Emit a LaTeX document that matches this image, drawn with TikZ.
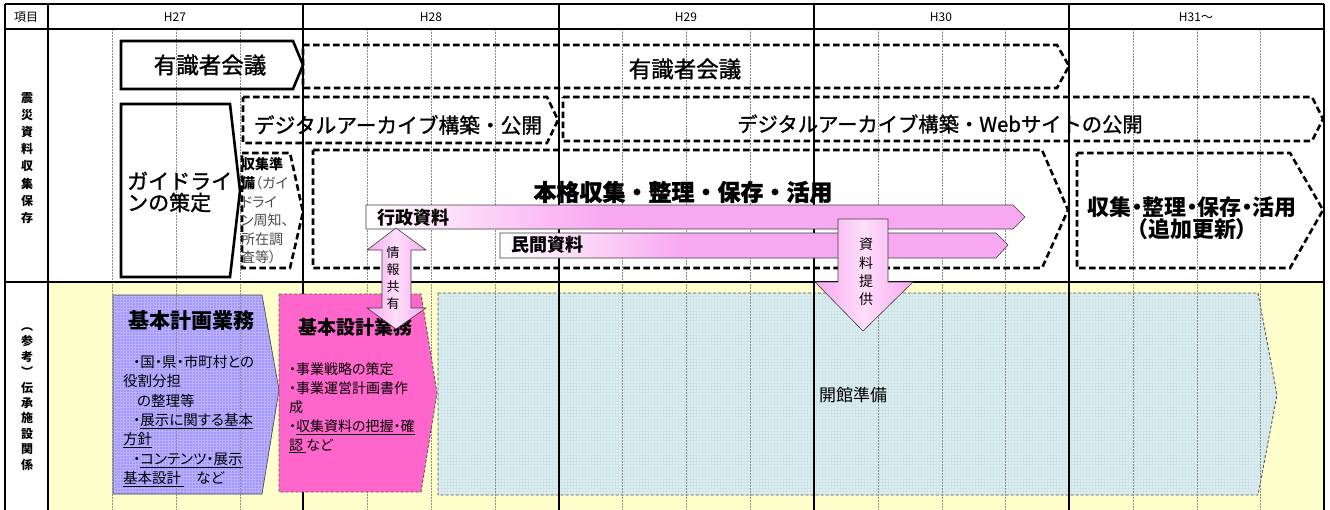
\documentclass[tikz,border=0pt]{standalone}
\usepackage        {fontspec}
\setmainfont       {Noto Sans CJK JP}[RawFeature=+palt]
\newfontfamily\jpHeavy{Noto Sans CJK JP}[RawFeature={embolden=1.3}]
\usetikzlibrary    {patterns}
\definecolor{bgYellow}{RGB}{255,255,204}
\definecolor{arrowPink}{RGB}{248,168,240}
\definecolor{arrowPinkLight}{RGB}{253,222,250}
\definecolor{designPink}{RGB}{255,102,204}
\definecolor{planPurple}{RGB}{162,152,252}
\definecolor{planGrid}{RGB}{186,178,255}
\definecolor{openBlue}{RGB}{220,238,238}
\definecolor{openGrid}{RGB}{206,228,234}
\pgfdeclarehorizontalshading{pinkFade}{100bp}{color(0bp)=(white); color(25bp)=(white); color(43bp)=(arrowPink); color(100bp)=(arrowPink)}

\begin{document}
\begin{tikzpicture}[x=1pt,y=-1pt]
 \tikzset{
  yearLine/.style={black, line width=1.6pt},
  quarterLine/.style={black!45, line width=0.9pt, dash pattern=on 2pt off 1pt},
  solidBox/.style={black, line width=2.6pt, line join=miter},
  dashBox/.style={black, line width=2.6pt, dash pattern=on 6.5pt off 3.5pt},
  thinDash/.style={black!65, line width=0.9pt, dash pattern=on 3pt off 2pt},
  pinkArrow/.style={draw=black!75, line width=0.6pt, shading=pinkFade},
  pinkBlock/.style={draw=black!75, line width=0.6pt, left color=arrowPink, right color=arrowPink, middle color=arrowPinkLight},
  headText/.style={font=\fontsize{12}{14}\selectfont},
  sideLabel/.style={align=center, inner sep=0pt, font=\fontsize{12}{17.1}\selectfont\bfseries},
  bigText/.style={inner sep=0pt, font=\fontsize{20.7}{20.7}\selectfont\jpHeavy},
  boldText/.style={inner sep=0pt, align=center, font=\fontsize{22}{22}\selectfont\bfseries},
  arrowText/.style={inner sep=0pt, font=\fontsize{18}{18}\selectfont\bfseries},
  vertText/.style={inner sep=0pt, align=center},
  bodyText/.style={inner sep=0pt, align=left, anchor=west}
  }
  \useasboundingbox (0,0) rectangle (1330,509);
  \fill[white] (0,0) rectangle (1330,509);
  % yellow lower band
  \fill[bgYellow] (48,282) rectangle (1324,512);
  % plan box and opening box, the grid shows through them
  \path[preaction={fill=planPurple}, pattern=grid, pattern color=planGrid, draw=black!70, line width=0.7pt]
   (113,295) -- (262,295) -- (279,390) -- (262,494) -- (113,494) -- cycle;
  \path[preaction={fill=openBlue}, pattern=grid, pattern color=openGrid]
   (438,293) -- (1258,293) -- (1277,395) -- (1258,495) -- (438,495) -- cycle;
  \draw[thinDash] (438,293) -- (1258,293) -- (1277,395) -- (1258,495) -- (438,495) -- cycle;

  % quarter lines
  \draw[quarterLine] (112,29) -- (112,512) (176,29) -- (176,512) (240,29) -- (240,512)
   (367,29) -- (367,512) (431,29) -- (431,512) (495,29) -- (495,512)
   (622,29) -- (622,512) (686,29) -- (686,512) (750,29) -- (750,512)
   (878,29) -- (878,512) (942,29) -- (942,512) (1005,29) -- (1005,512)
   (1133,29) -- (1133,512) (1197,29) -- (1197,512) (1260,29) -- (1260,512);
  % year lines and frame
  \draw[yearLine] (5,4) -- (5,512) (48,4) -- (48,512) (303,4) -- (303,512) (559,4) -- (559,512)
   (814,4) -- (814,512) (1069,4) -- (1069,512) (1324,4) -- (1324,512);
  \draw[yearLine] (5,4) -- (1324,4) (5,29) -- (1324,29) (5,282) -- (1324,282);

  % header
  \node[headText] (hdItem) at (26,17) {項目};
  \node[headText] (hd27) at (175,17) {H27};
  \node[headText] (hd28) at (431,17) {H28};
  \node[headText] (hd29) at (686,17) {H29};
  \node[headText] (hd30) at (941,17) {H30};
  \node[headText] (hd31) at (1196,17) {H31～};
  \node[sideLabel] (sideArchive) at (27,158) {震\\災\\資\\料\\収\\集\\保\\存};
  \node[sideLabel, font=\fontsize{12}{15.4}\selectfont\bfseries] (sideFacility) at (27,399)
   {︵\\参\\考\\︶\\伝\\承\\施\\設\\関\\係};

  % upper band
  \draw[solidBox] (121,41) -- (293,41) -- (303,65) -- (293,89) -- (121,89) -- cycle;
  \draw[dashBox] (303,45) -- (1057,45) -- (1069,66) -- (1057,88) -- (303,88) -- cycle;
  \draw[solidBox] (121,104) -- (230,104) -- (240,191) -- (230,277) -- (121,277) -- cycle;
  \draw[dashBox] (243,97) -- (547,97) -- (558,120) -- (547,143) -- (243,143) -- cycle;
  \draw[dashBox] (563,97) -- (1312,97) -- (1323,119) -- (1312,141) -- (563,141) -- cycle;
  \draw[dashBox] (242,153) -- (290,153) -- (303,212) -- (290,268) -- (242,268) -- cycle;
  \draw[dashBox] (313,150) -- (1042,150) -- (1068,210) -- (1042,268) -- (313,268) -- cycle;
  \draw[dashBox] (1077,153) -- (1290,153) -- (1323,210) -- (1290,268) -- (1077,268) -- cycle;

  \node[bigText, font=\fontsize{22.5}{22.5}\selectfont\jpHeavy] (tBoard) at (210,65) {有識者会議};
  \node[bigText, font=\fontsize{22.5}{22.5}\selectfont\jpHeavy] (tBoardOn) at (685,69) {有識者会議};
  \node[bigText] (tArchive) at (398,125) {デジタルアーカイブ構築・公開};
  \node[bigText, font=\fontsize{20.3}{20.3}\selectfont\jpHeavy] (tArchiveWeb) at (940,124) {デジタルアーカイブ構築・Webサイトの公開};
  \node[bigText, font=\fontsize{21}{21.5}\selectfont\jpHeavy, align=left, anchor=west] (tGuide) at (127,192) {ガイドライ\\ンの策定};
  \node[bodyText, font=\fontsize{14}{18.6}\selectfont\color{black!70}] (tPrep) at (241,211)
   {{\bfseries\color{black}収集準}\\{\bfseries\color{black}備}（ガイ\\ドライ\\ン周知、\\所在調\\査等）};
  \node[boldText, font=\fontsize{23}{23}\selectfont\jpHeavy\bfseries] (tFull) at (683,192) {本格収集・整理・保存・活用};
  \node[boldText] (tMore) at (1192,218) {収集・整理・保存・活用\\（追加更新）};

  % materials arrows
  \path[pinkArrow] (366,205) -- (1013,205) -- (1025,217) -- (1013,229) -- (366,229) -- cycle;
  \path[pinkArrow] (500,233) -- (996,233) -- (1008,245) -- (996,258) -- (500,258) -- cycle;
  \node[arrowText, anchor=west] (tGov) at (377,218) {行政資料};
  \node[arrowText, anchor=west] (tPriv) at (511,245) {民間資料};

  % lower band
  \node[inner sep=0pt, font=\fontsize{21}{21}\selectfont\bfseries] (tPlan) at (191,321) {基本計画業務};
  \node[bodyText, font=\fontsize{14.5}{19.3}\selectfont] (tPlanBody) at (123,421)
   {\hspace*{10pt}・国・県・市町村との\\役割分担\\\hspace*{14pt}の整理等\\\hspace*{10pt}・\underline{展示に関する基本}\\\underline{方針}\\\hspace*{10pt}・\underline{コンテンツ・展示}\\\underline{基本設計\ }\hspace{12pt}など};
  \path[fill=designPink] (279,294) -- (421,294) -- (437,393) -- (421,492) -- (279,492) -- cycle;
  \draw[thinDash] (279,294) -- (421,294) -- (437,393) -- (421,492) -- (279,492) -- cycle;
  \node[inner sep=0pt, font=\fontsize{19}{19}\selectfont\bfseries] (tDesign) at (355,327) {基本設計業務};
  \node[bodyText, font=\fontsize{14}{18.8}\selectfont] (tDesignBody) at (289,408)
   {・事業戦略の策定\\・事業運営計画書作\\成\\・\underline{収集資料の把握・確}\\\underline{認\ }など};
  \node[inner sep=0pt, font=\fontsize{17}{17}\selectfont] (tOpen) at (853,395) {開館準備};

  % shared info and material supply
  \path[pinkBlock] (396,228) -- (426,250) -- (411,250) -- (411,308) -- (426,308) -- (396,329)
   -- (367,308) -- (382,308) -- (382,250) -- (367,250) -- cycle;
  \node[vertText, font=\fontsize{13}{16.7}\selectfont] (tShare) at (393,278) {情\\報\\共\\有};
  \path[pinkBlock] (838,219) -- (888,219) -- (888,282) -- (913,282) -- (863,331) -- (815,282)
   -- (838,282) -- cycle;
  \node[vertText, font=\fontsize{14}{18.3}\selectfont] (tSupply) at (866,272) {資\\料\\提\\供};
\end{tikzpicture}
\end{document}
